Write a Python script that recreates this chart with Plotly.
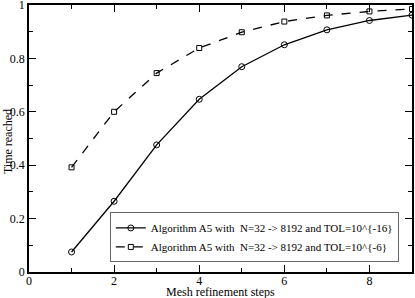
import plotly.graph_objects as go

steps = [1, 2, 3, 4, 5, 6, 7, 8, 9]
tol16 = [0.075, 0.265, 0.476, 0.647, 0.769, 0.851, 0.907, 0.942, 0.962]
tol6 = [0.392, 0.600, 0.745, 0.839, 0.898, 0.938, 0.961, 0.976, 0.985]
name16 = "Algorithm A5 with\u00a0 N=32 -> 8192 and TOL=10^{-16}"
name6 = "Algorithm A5 with\u00a0 N=32 -> 8192 and TOL=10^{-6}"
xticks = [0, 2, 4, 6, 8]
yticks = [0, 0.2, 0.4, 0.6, 0.8, 1]
yticklabels = ["0", "0.2", "0.4", "0.6", "0.8", "1"]

FAM = "Liberation Serif, Times New Roman, serif"
fig = go.Figure()
fig.add_trace(go.Scatter(x=steps, y=tol16, mode="lines+markers", name=name16,
                         line=dict(color="black", width=1.3),
                         marker=dict(symbol="circle-open", size=6, color="black", line=dict(width=1))))
fig.add_trace(go.Scatter(x=steps, y=tol6, mode="lines+markers", name=name6,
                         line=dict(color="black", width=1.3, dash="dash"),
                         marker=dict(symbol="square-open", size=5, color="black", line=dict(width=1))))

font = dict(family=FAM, size=12, color="black")
axis_common = dict(showgrid=False, zeroline=False, showline=True, linecolor="black", linewidth=1.6,
                   mirror="ticks", ticks="inside", ticklen=7, tickcolor="black", tickwidth=1,
                   tickfont=font, automargin=False, ticklabeloverflow="allow")
fig.update_xaxes(range=[0, 9], tickmode="array", tickvals=xticks, ticklabelstandoff=-3,
                 minor=dict(dtick=1, tick0=0, ticks="inside", ticklen=4, tickcolor="black"),
                 **axis_common)
fig.update_yaxes(range=[0, 1], tickmode="array", tickvals=yticks, ticktext=yticklabels,
                 minor=dict(dtick=0.1, tick0=0, ticks="inside", ticklen=4, tickcolor="black"),
                 **axis_common)
fig.add_annotation(text="Mesh refinement steps", xref="paper", yref="paper", x=0.5, y=-0.076,
                   xanchor="center", yanchor="middle", showarrow=False, font=font)
fig.add_annotation(text="Time reached", xref="paper", yref="paper", x=-0.055, y=0.49,
                   xanchor="center", yanchor="middle", textangle=-90, showarrow=False, font=font)
fig.update_layout(width=415, height=298, margin=dict(l=29, r=3, t=5, b=26),
                  plot_bgcolor="white", paper_bgcolor="white", font=font,
                  showlegend=True,
                  legend=dict(x=0.211, y=0.223, xanchor="left", yanchor="top",
                              bgcolor="white", bordercolor="#666666", borderwidth=1,
                              font=dict(family=FAM, size=11, color="black"),
                              tracegroupgap=0, itemwidth=30))
fig.write_html("out.html", config={"displayModeBar": False},
               post_script="document.body.style.margin='0';document.body.style.overflow='hidden';")
